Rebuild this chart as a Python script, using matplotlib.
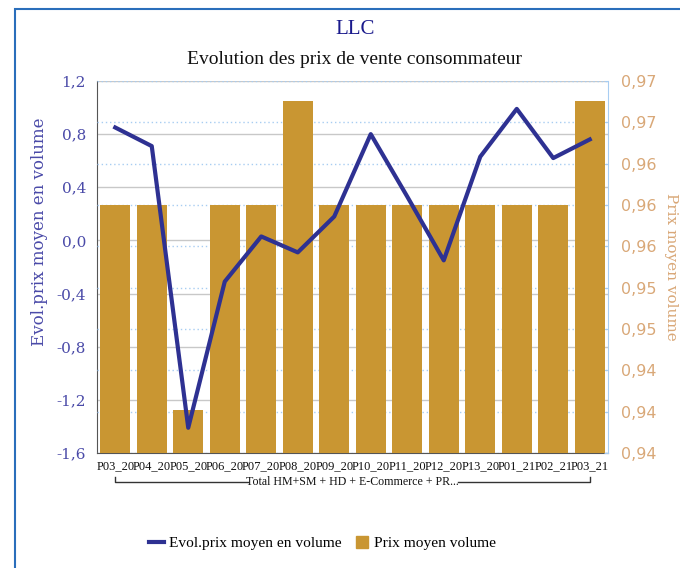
import numpy as np
import matplotlib
matplotlib.use("Agg")
import matplotlib.pyplot as plt
from matplotlib.ticker import FuncFormatter
from matplotlib.patches import Rectangle
from matplotlib.lines import Line2D

periods = ["P03_20", "P04_20", "P05_20", "P06_20", "P07_20", "P08_20", "P09_20",
           "P10_20", "P11_20", "P12_20", "P13_20", "P01_21", "P02_21", "P03_21"]
evol_prix = [0.85, 0.71, -1.41, -0.31, 0.03, -0.09, 0.18,
             0.80, 0.33, -0.15, 0.63, 0.99, 0.62, 0.76]
prix_moyen = [0.9586, 0.9586, 0.9412, 0.9586, 0.9586, 0.9674, 0.9586,
              0.9586, 0.9586, 0.9586, 0.9586, 0.9586, 0.9586, 0.9674]
group_label = "Total HM+SM + HD + E-Commerce + PR..."

left_ticks = [-1.6, -1.2, -0.8, -0.4, 0.0, 0.4, 0.8, 1.2]
right_ticks = np.linspace(0.9376, 0.9691, 10)

line_col = "#2e3192"
bar_col = "#c99632"
left_txt = "#4a4aa8"
right_txt = "#d9a878"
serif = "DejaVu Serif"
times = "Liberation Serif"

plt.rcParams["font.family"] = serif

fig = plt.figure(figsize=(6.8, 5.68), dpi=100)
# blue frame around the chart
fig.patches.append(Rectangle((15 / 680, -0.1), 2, 1.1 - 9 / 568, transform=fig.transFigure,
                             fill=False, edgecolor="#2a6ebb", linewidth=1.5))

ax1 = fig.add_axes([97 / 680, 115 / 568, 511 / 680, 372 / 568])
ax2 = ax1.twinx()

x = np.arange(len(periods))

ax1.set_ylim(-1.6, 1.2)
ax1.set_yticks(left_ticks)
ax1.yaxis.set_major_formatter(FuncFormatter(lambda v, p: f"{v:.1f}".replace(".", ",")))
ax1.grid(axis="y", color="#c8c8c8", linewidth=1)
ax1.set_axisbelow(True)
ax1.set_xlim(-0.5, len(periods) - 0.5)

ax2.set_ylim(right_ticks[0], right_ticks[-1])
ax2.set_yticks(right_ticks)
ax2.yaxis.set_major_formatter(FuncFormatter(lambda v, p: f"{v:.2f}".replace(".", ",")))
ax2.grid(axis="y", color="#a8cdf2", linewidth=1, linestyle=(0, (1, 2)))
ax2.set_axisbelow(True)

ax2.bar(x, prix_moyen, width=0.82, color=bar_col, zorder=2)
ax2.plot(x, evol_prix, color=line_col, linewidth=3, transform=ax1.transData, zorder=3)

for a in (ax1, ax2):
    a.spines["top"].set_visible(False)
ax1.spines["right"].set_visible(False)
ax2.spines["left"].set_visible(False)
ax2.spines["bottom"].set_visible(False)
ax2.spines["right"].set_color("#a8cdf2")
ax1.spines["left"].set_color("#555555")
ax1.spines["bottom"].set_color("#555555")

ax1.tick_params(axis="y", length=0, pad=8, labelsize=11, labelcolor=left_txt)
ax2.tick_params(axis="y", length=3, direction="in", color="#a8cdf2", pad=9,
                labelsize=11.5, labelcolor=right_txt)
for t in ax2.get_yticklabels():
    t.set_fontfamily("DejaVu Sans")
ax1.set_xticks(x)
ax1.set_xticklabels(periods, fontsize=9, fontfamily=times, color="#111111")
ax1.tick_params(axis="x", length=0, pad=5)

ax1.set_ylabel("Evol.prix moyen en volume", color=left_txt, fontsize=12)
ax1.yaxis.set_label_coords(-0.095, 0.594)
ax2.set_ylabel("Prix moyen volume", color=right_txt, fontsize=11, rotation=270,
               labelpad=16)

# bracket under the category labels
bt = ax1.get_xaxis_transform()
by = -0.077
ax1.plot([0, 0, 3.65], [by + 0.012, by, by], color="#333333", lw=1, transform=bt, clip_on=False)
ax1.plot([9.4, 13, 13], [by, by, by + 0.012], color="#333333", lw=1, transform=bt, clip_on=False)
ax1.text(6.5, by, group_label, transform=bt, ha="center", va="center", fontsize=8.6,
         fontfamily=times, color="#111111")

fig.text(0.522, 1 - 29 / 568, "LLC", ha="center", va="center", fontsize=15,
         fontfamily=times, color="#1a1a8c")
fig.text(0.522, 1 - 59 / 568, "Evolution des prix de vente consommateur", ha="center",
         va="center", fontsize=14, fontfamily=times, color="#111111")

handles = [Line2D([], [], color=line_col, linewidth=3),
           Line2D([], [], linestyle="none", marker="s", markersize=8,
                  markerfacecolor=bar_col, markeredgecolor=bar_col)]
fig.legend(handles, ["Evol.prix moyen en volume", "Prix moyen volume"], loc="center",
           bbox_to_anchor=(0.474, 1 - 543 / 568), ncol=2, frameon=False,
           prop={"family": times, "size": 11.1},
           handlelength=1.0, columnspacing=0.8, handletextpad=0.3)

fig.savefig("out.png", dpi=100)
